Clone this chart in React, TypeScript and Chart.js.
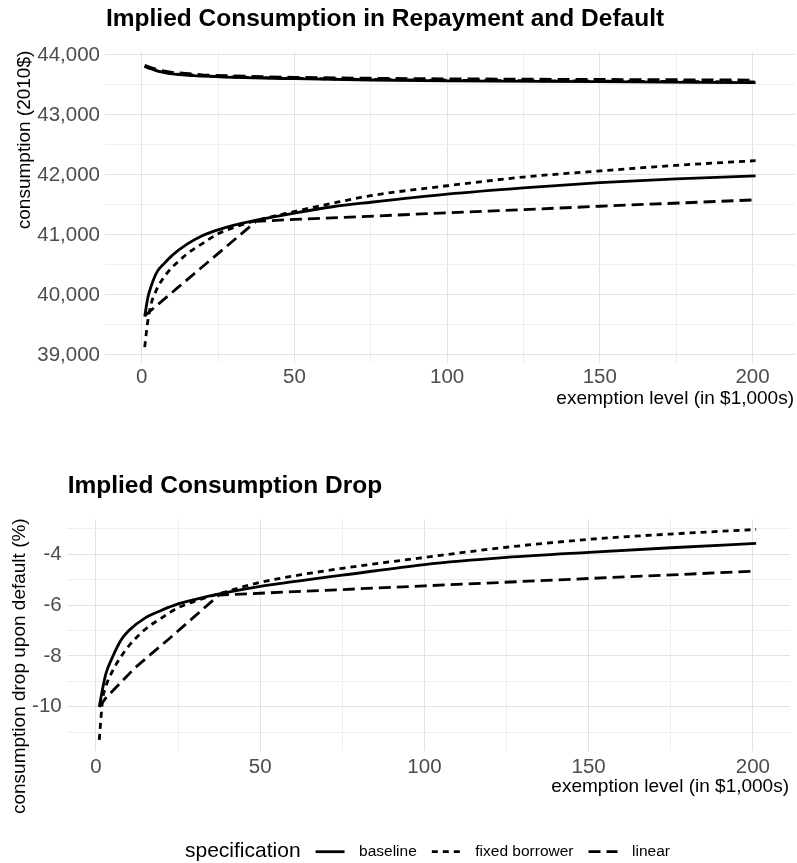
import React, { useEffect, useRef } from 'react';
import { Chart, registerables } from 'chart.js';

Chart.register(...registerables);

const FONT = "'Liberation Sans', Arial, Helvetica, sans-serif";

// Specifications (line types shared by both panels and the legend)
const specNames = ['baseline', 'fixed borrower', 'linear'];
const specDash: number[][] = [[], [6, 5], [12, 6]];

// Exemption levels (in $1,000s)
const exemptionFine = [1, 2, 3, 5, 7.5, 10, 15, 20, 25, 30, 37.5, 50, 62.5, 75, 100, 125, 150, 175, 201];
const exemptionLinear = [1, 3, 12, 22, 37.5, 50, 100, 150, 201];
const exemptionRepay = [1, 3, 6, 10, 20, 30, 50, 75, 100, 150, 201];

// Consumption in repayment (2010$)
const repayBaseline = [43815, 43770, 43722, 43685, 43648, 43628, 43605, 43583, 43570, 43555, 43538];
const repayFixed = [43810, 43768, 43725, 43690, 43655, 43635, 43612, 43592, 43580, 43565, 43550];
const repayLinear = [43830, 43790, 43745, 43710, 43670, 43650, 43628, 43612, 43602, 43592, 43582];

// Consumption in default (2010$)
const defaultBaseline = [39640, 39950, 40130, 40380, 40530, 40660, 40850, 40990, 41085, 41160, 41245, 41365, 41470, 41545, 41680, 41785, 41872, 41935, 41985];
const defaultFixed = [39130, 39560, 39830, 40100, 40310, 40460, 40690, 40860, 41020, 41120, 41240, 41390, 41530, 41655, 41820, 41965, 42067, 42160, 42238];
const defaultLinear = [39650, 39740, 40130, 40560, 41228, 41258, 41368, 41478, 41585];

// Consumption drop upon default (%)
const dropBaseline = [-10.0, -9.3, -8.7, -8.05, -7.4, -7.0, -6.5, -6.2, -5.95, -5.78, -5.56, -5.26, -5.03, -4.82, -4.4, -4.12, -3.92, -3.74, -3.57];
const dropFixed = [-11.3, -9.75, -9.2, -8.6, -8.05, -7.6, -6.95, -6.5, -6.1, -5.85, -5.55, -5.1, -4.8, -4.55, -4.12, -3.72, -3.41, -3.2, -3.02];
const dropLinear = [-10.0, -9.65, -8.45, -7.35, -5.6, -5.53, -5.24, -4.95, -4.66];

// Axis ticks (major ones are labelled, minor ones only carry a grid line)
const exemptionTicks = [0, 25, 50, 75, 100, 125, 150, 175, 200];
const consumptionTicks = [39000, 39500, 40000, 40500, 41000, 41500, 42000, 42500, 43000, 43500, 44000];
const dropTicks = [-11, -10, -9, -8, -7, -6, -5, -4, -3];

const LINE_WIDTH = 2.8;

const toPoints = (xs: number[], ys: number[]) => xs.map((x, i) => ({ x, y: ys[i] }));

const series = (xs: number[], ys: number[], spec: number) => ({
  label: specNames[spec],
  data: toPoints(xs, ys),
  borderColor: '#000000',
  backgroundColor: '#000000',
  borderWidth: LINE_WIDTH,
  borderDash: specDash[spec],
  borderCapStyle: 'butt',
  borderJoinStyle: 'round',
  pointRadius: 0,
  fill: false,
  tension: 0,
  cubicInterpolationMode: spec === 2 ? 'default' : 'monotone',
});

const tickFont = { family: FONT, size: 20.5 };
const TICK_COLOR = '#4d4d4d';

const gridFor = (majorStep: number) => ({
  drawTicks: false,
  lineWidth: 1,
  color: (c: any) => {
    const v = c.tick ? c.tick.value : 0;
    return Math.abs(v % majorStep) < 1e-9 ? '#e2e2e2' : '#efefef';
  },
});

// Panel titles and axis titles, placed relative to the plotting area
const ggText = {
  id: 'ggText',
  afterDraw(chart: any, _args: any, opts: any) {
    const { ctx, chartArea } = chart;
    ctx.save();
    ctx.fillStyle = '#000000';
    ctx.textBaseline = 'alphabetic';

    ctx.font = `bold 24.5px ${FONT}`;
    ctx.textAlign = 'left';
    ctx.fillText(opts.title, chartArea.left + 1, chartArea.top - 26);

    ctx.font = `19px ${FONT}`;
    ctx.textAlign = 'right';
    ctx.fillText(opts.xTitle, chartArea.right - 1, chartArea.bottom + 41);

    ctx.translate(opts.yTitleX, chartArea.top - 1);
    ctx.rotate(-Math.PI / 2);
    ctx.textAlign = 'right';
    ctx.fillText(opts.yTitle, 0, 0);
    ctx.restore();
  },
};

// Shared legend for the line types, drawn under the lower panel
const specLegend = {
  id: 'specLegend',
  afterDraw(chart: any, _args: any, opts: any) {
    if (!opts || !opts.show) return;
    const ctx = chart.ctx;
    const y = opts.y;
    ctx.save();
    ctx.fillStyle = '#000000';
    ctx.strokeStyle = '#000000';
    ctx.textBaseline = 'middle';
    ctx.textAlign = 'left';
    let x = opts.x;
    ctx.font = `21px ${FONT}`;
    ctx.fillText(opts.title, x, y);
    x += ctx.measureText(opts.title).width + 15;
    ctx.font = `15.5px ${FONT}`;
    specNames.forEach((name, i) => {
      ctx.beginPath();
      ctx.setLineDash(specDash[i]);
      ctx.lineWidth = LINE_WIDTH;
      ctx.lineCap = 'butt';
      ctx.moveTo(x, y);
      ctx.lineTo(x + 29, y);
      ctx.stroke();
      ctx.setLineDash([]);
      x += 29 + 14.5;
      ctx.fillText(name, x, y);
      x += ctx.measureText(name).width + 15;
    });
    ctx.restore();
  },
};

function makeTopConfig(height: number): any {
  return {
    type: 'line',
    data: {
      datasets: [
        series(exemptionRepay, repayBaseline, 0),
        series(exemptionRepay, repayFixed, 1),
        series(exemptionRepay, repayLinear, 2),
        series(exemptionFine, defaultBaseline, 0),
        series(exemptionFine, defaultFixed, 1),
        series(exemptionLinear, defaultLinear, 2),
      ],
    },
    options: {
      animation: false,
      responsive: false,
      devicePixelRatio: 1,
      layout: { autoPadding: false, padding: { top: 51.7, right: 2, left: 0, bottom: 0 } },
      plugins: {
        legend: { display: false },
        tooltip: { enabled: false },
        ggText: {
          title: 'Implied Consumption in Repayment and Default',
          xTitle: 'exemption level (in $1,000s)',
          yTitle: 'consumption (2010$)',
          yTitleX: 29.5,
        },
        specLegend: { show: false },
      },
      scales: {
        x: {
          type: 'linear',
          min: -12,
          max: 213.9,
          afterBuildTicks: (s: any) => { s.ticks = exemptionTicks.map((value) => ({ value })); },
          afterFit: (s: any) => { s.height = height - 363; },
          ticks: {
            callback: (v: number) => (v % 50 === 0 ? String(v) : ''),
            font: tickFont,
            color: TICK_COLOR,
            padding: 2,
            maxRotation: 0,
            autoSkip: false,
          },
          grid: gridFor(50),
          border: { display: false },
        },
        y: {
          type: 'linear',
          min: 38865,
          max: 44055,
          afterBuildTicks: (s: any) => { s.ticks = consumptionTicks.map((value) => ({ value })); },
          afterFit: (s: any) => { s.width = 105; },
          ticks: {
            callback: (v: number) => (v % 1000 === 0 ? v.toLocaleString('en-US') : ''),
            font: tickFont,
            color: TICK_COLOR,
            padding: 5,
            autoSkip: false,
          },
          grid: gridFor(1000),
          border: { display: false },
        },
      },
    },
    plugins: [ggText, specLegend],
  };
}

function makeBottomConfig(height: number): any {
  return {
    type: 'line',
    data: {
      datasets: [
        series(exemptionFine, dropBaseline, 0),
        series(exemptionFine, dropFixed, 1),
        series(exemptionLinear, dropLinear, 2),
      ],
    },
    options: {
      animation: false,
      responsive: false,
      devicePixelRatio: 1,
      layout: { autoPadding: false, padding: { top: 79.3, right: 7, left: 0, bottom: 0 } },
      plugins: {
        legend: { display: false },
        tooltip: { enabled: false },
        ggText: {
          title: 'Implied Consumption Drop',
          xTitle: 'exemption level (in $1,000s)',
          yTitle: 'consumption drop upon default (%)',
          yTitleX: 24.5,
        },
        specLegend: { show: true, title: 'specification', x: 185, y: 411.7 },
      },
      scales: {
        x: {
          type: 'linear',
          min: -8.92,
          max: 211.3,
          afterBuildTicks: (s: any) => { s.ticks = exemptionTicks.map((value) => ({ value })); },
          afterFit: (s: any) => { s.height = height - 311; },
          ticks: {
            callback: (v: number) => (v % 50 === 0 ? String(v) : ''),
            font: tickFont,
            color: TICK_COLOR,
            padding: 4,
            maxRotation: 0,
            autoSkip: false,
          },
          grid: gridFor(50),
          border: { display: false },
        },
        y: {
          type: 'linear',
          min: -11.74,
          max: -2.62,
          afterBuildTicks: (s: any) => { s.ticks = dropTicks.map((value) => ({ value })); },
          afterFit: (s: any) => { s.width = 66.7; },
          ticks: {
            callback: (v: number) => (v % 2 === 0 ? String(v) : ''),
            font: tickFont,
            color: TICK_COLOR,
            padding: 5,
            autoSkip: false,
          },
          grid: gridFor(2),
          border: { display: false },
        },
      },
    },
    plugins: [ggText, specLegend],
  };
}

function ChartCanvas({ top, width, height, build }: { top: number; width: number; height: number; build: (h: number) => any }) {
  const ref = useRef<HTMLCanvasElement | null>(null);
  useEffect(() => {
    if (!ref.current) return;
    const chart = new Chart(ref.current, build(height));
    return () => chart.destroy();
  }, [build, height]);
  return (
    <canvas
      ref={ref}
      width={width}
      height={height}
      style={{ position: 'absolute', left: 0, top, width, height, display: 'block' }}
    />
  );
}

export default function App() {
  return (
    <div style={{ position: 'absolute', left: 0, top: 0, width: 797, height: 863, background: '#ffffff', overflow: 'hidden' }}>
      <ChartCanvas top={0} width={797} height={420} build={makeTopConfig} />
      <ChartCanvas top={440} width={797} height={423} build={makeBottomConfig} />
    </div>
  );
}
